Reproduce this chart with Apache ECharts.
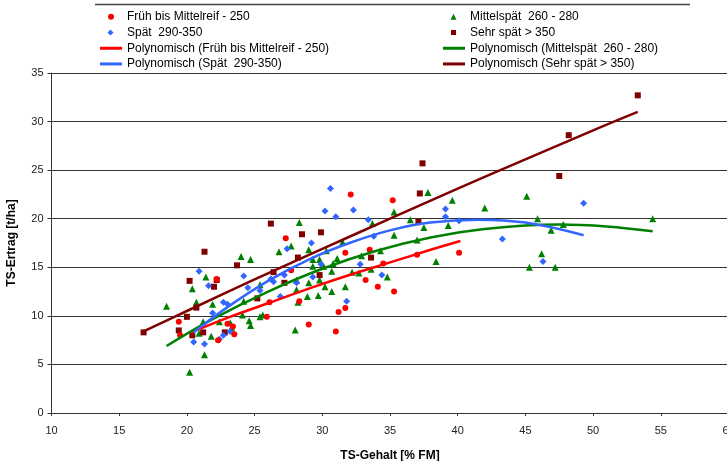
<!DOCTYPE html>
<html><head><meta charset="utf-8">
<script src="https://cdn.jsdelivr.net/npm/echarts@6/dist/echarts.min.js"></script>
<style>html,body{margin:0;padding:0;background:#fff}#c{width:727px;height:461px}</style>
</head><body><div id="c"></div>
<script>
// x ticks / y ticks
const xTicks = [10, 15, 20, 25, 30, 35, 40, 45, 50, 55, 60];
const yTicks = [0, 5, 10, 15, 20, 25, 30, 35];

const seriesNames = ['Früh bis Mittelreif - 250', 'Mittelspät  260 - 280', 'Spät  290-350', 'Sehr spät > 350'];
const trendNames = ['Polynomisch (Früh bis Mittelreif - 250)', 'Polynomisch (Mittelspät  260 - 280)', 'Polynomisch (Spät  290-350)', 'Polynomisch (Sehr spät > 350)'];

const fruehPoints = [[19.4,9.4],[19.5,8.0],[22.2,13.8],[22.3,7.5],[23.0,9.2],[23.4,8.9],[23.5,8.1],[25.9,9.9],[26.1,11.4],[27.3,18.0],[27.7,14.7],[28.3,11.5],[29.0,9.1],[31.0,8.4],[31.2,10.4],[31.7,10.8],[31.7,16.5],[32.1,22.5],[33.2,13.7],[33.5,16.8],[34.1,13.0],[34.5,15.4],[35.2,21.9],[35.3,12.5],[37.0,16.3],[40.1,16.5]];

const mittelPoints = [[18.5,11.0],[20.2,4.2],[20.4,12.8],[20.7,11.4],[20.9,8.2],[21.2,9.4],[21.3,6.0],[21.4,14.0],[21.8,7.9],[21.9,11.2],[22.4,9.4],[23.2,9.3],[23.3,8.8],[24.0,16.1],[24.1,10.1],[24.2,11.5],[24.6,9.5],[24.7,9.0],[24.7,15.8],[25.4,13.2],[25.4,9.9],[25.6,10.1],[26.8,16.6],[27.7,17.2],[28.0,8.55],[28.1,13.7],[28.1,12.7],[28.2,11.4],[28.3,19.6],[28.9,12.0],[29.0,16.8],[29.0,13.4],[29.3,15.8],[29.3,15.1],[29.7,12.1],[29.8,15.8],[29.8,13.7],[30.1,15.1],[30.2,13.0],[30.3,16.7],[30.7,14.6],[30.7,12.5],[30.8,15.4],[31.1,15.9],[31.5,17.6],[31.7,13.0],[32.2,14.5],[32.7,14.4],[32.9,16.2],[33.6,14.8],[33.7,19.5],[34.3,16.7],[34.8,14.0],[35.3,20.7],[35.3,18.3],[36.5,19.9],[37.0,17.8],[37.5,19.1],[37.8,22.7],[38.4,15.6],[39.3,19.3],[39.6,21.9],[42.0,21.1],[45.1,22.3],[45.3,15.0],[45.9,20.0],[46.2,16.4],[46.9,18.8],[47.2,15.0],[47.8,19.4],[54.4,20.0]];

const spaetPoints = [[20.5,7.3],[20.9,14.6],[21.3,7.1],[21.6,13.1],[21.9,10.3],[22.4,7.6],[22.7,8.0],[22.7,11.4],[23.0,11.2],[23.2,8.4],[24.2,14.1],[24.5,12.9],[25.4,12.6],[26.2,13.8],[26.4,13.5],[26.9,12.0],[27.2,14.2],[27.4,16.9],[28.1,13.4],[29.2,17.5],[29.3,14.0],[29.9,15.3],[30.2,20.8],[30.6,23.1],[31.0,20.2],[31.8,11.5],[32.3,20.9],[32.8,15.3],[33.4,19.9],[33.8,18.2],[34.4,14.2],[39.1,21.0],[39.1,20.2],[40.1,19.8],[43.3,17.9],[46.3,15.6],[49.3,21.6]];

const sehrPoints = [[16.8,8.3],[19.4,8.5],[20.0,9.9],[20.2,13.6],[20.4,8.0],[20.7,10.85],[21.2,8.3],[21.3,16.6],[22.0,13.0],[22.2,13.7],[22.8,8.3],[23.7,15.2],[25.2,11.8],[26.2,19.5],[26.4,14.5],[27.2,13.4],[28.2,16.0],[28.5,18.4],[29.8,14.2],[29.9,18.6],[33.6,16.0],[37.1,19.7],[37.2,22.6],[37.4,25.7],[47.5,24.4],[48.2,28.6],[53.3,32.7]];

// trend curves
const fruehTrend = [[20.3,8.3],[23,9.8],[26,11.3],[29,12.8],[32,14.2],[35,15.5],[38,16.8],[40.2,17.7]];
const mittelTrend = [[18.5,6.9],[22,9.74],[26,12.5],[30,14.85],[34,16.7],[38,18.06],[42,18.95],[47.5,19.4],[51,19.2],[54.4,18.7]];
const spaetTrend = [[20.5,8.3],[23,10.9],[26,13.6],[29,15.8],[32,17.5],[35,18.8],[38,19.6],[41.5,19.9],[45,19.6],[49.3,18.3]];
const sehrTrend = [[16.8,8.4],[20,10.5],[25,13.75],[30,16.9],[35,20.0],[40,23.1],[45,26.1],[50,29.1],[53.3,31.0]];

const colors = ['#ff0000', '#008000', '#3366ff', '#800000'];
const symbols = ['circle', 'triangle', 'diamond', 'rect'];
const sizes = [6, 7, 7, 6];
const pointSets = [fruehPoints, mittelPoints, spaetPoints, sehrPoints];
const trendSets = [fruehTrend, mittelTrend, spaetTrend, sehrTrend];

const series = [];
[1, 3, 2, 0].forEach(i => {
  series.push({
    name: seriesNames[i], type: 'scatter', data: pointSets[i],
    symbol: symbols[i], symbolSize: sizes[i],
    itemStyle: { color: colors[i], opacity: 1 }, z: 2
  });
});
[0, 1, 2, 3].forEach(i => {
  series.push({
    name: trendNames[i], type: 'line', data: trendSets[i], smooth: 0.4,
    showSymbol: false, symbol: 'none',
    lineStyle: { color: colors[i], width: 2.5 }, itemStyle: { color: colors[i] }, z: 3
  });
});

// legend icons: small marker centred in a 22x6 box (tiny invisible anchors keep the box width)
const pad = 'M0,3L0.01,3.01L0,3.02ZM22,3L21.99,3.01L22,3.02Z';
const legendIcons = [
  'circle',
  'path://' + pad + 'M7.5,6L10.5,0L13.5,6Z',
  'path://' + pad + 'M10.5,0L13.5,3L10.5,6L7.5,3Z',
  'path://' + pad + 'M8,0.5H13V5.5H8Z'
];
const lineIcon = 'path://M0,0H22V3H0Z';
function legendItems(idx) {
  const out = [];
  idx.forEach(i => out.push({ name: seriesNames[i], icon: legendIcons[i] }));
  idx.forEach(i => out.push({ name: trendNames[i], icon: lineIcon }));
  return out;
}
const legendText = { fontFamily: 'Liberation Sans, Arial, sans-serif', fontSize: 12, color: '#000', lineHeight: 15.7 };
const legendBase = { orient: 'vertical', top: 9, itemWidth: 22, itemHeight: 6, itemGap: 0, symbolKeepAspect: true,
  textStyle: legendText, selectedMode: false, padding: 0 };

const chart = echarts.init(document.getElementById('c'), null, { renderer: 'canvas' });
chart.setOption({
  animation: false,
  backgroundColor: '#fff',
  grid: { left: 51.5, top: 73, width: 677, height: 340, containLabel: false, outerBoundsMode: 'none' },
  legend: [
    Object.assign({}, legendBase, { left: 100, data: legendItems([0, 2]) }),
    Object.assign({}, legendBase, { left: 443, data: legendItems([1, 3]) })
  ],
  graphic: [
    { type: 'line', shape: { x1: 95, y1: 4.5, x2: 690, y2: 4.5 }, style: { stroke: '#444', lineWidth: 1.5 }, silent: true }
  ],
  xAxis: {
    type: 'value', min: xTicks[0], max: xTicks[xTicks.length - 1], interval: 5,
    name: 'TS-Gehalt [% FM]', nameLocation: 'middle', nameGap: 37,
    nameTextStyle: { fontFamily: 'Liberation Sans, Arial, sans-serif', fontSize: 12, fontWeight: 'bold', color: '#000' },
    axisLine: { show: true, onZero: false, lineStyle: { color: '#333', width: 1 } },
    axisTick: { show: true, inside: false, length: 3, lineStyle: { color: '#333' } },
    axisLabel: { fontFamily: 'Liberation Sans, Arial, sans-serif', fontSize: 11, color: '#222', margin: 12 },
    splitLine: { show: false }
  },
  yAxis: {
    type: 'value', min: yTicks[0], max: yTicks[yTicks.length - 1], interval: 5,
    name: 'TS-Ertrag [t/ha]', nameLocation: 'middle', nameGap: 34, nameRotate: 90,
    nameTextStyle: { fontFamily: 'Liberation Sans, Arial, sans-serif', fontSize: 12, fontWeight: 'bold', color: '#000' },
    axisLine: { show: true, lineStyle: { color: '#333', width: 1 } },
    axisTick: { show: true, inside: false, length: 4, lineStyle: { color: '#333' } },
    axisLabel: { fontFamily: 'Liberation Sans, Arial, sans-serif', fontSize: 11, color: '#222', margin: 8 },
    splitLine: { show: true, lineStyle: { color: '#333', width: 1 } }
  },
  series: series
});
</script></body></html>
